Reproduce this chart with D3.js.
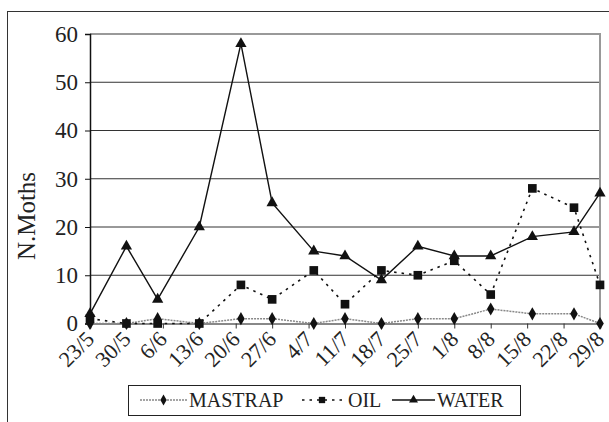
<!DOCTYPE html>
<html>
<head>
<meta charset="utf-8">
<script src="https://cdn.jsdelivr.net/npm/d3@7"></script>
<style>
  body { margin: 0; background: #fff; }
  svg { display: block; }
</style>
</head>
<body>
<svg id="chart" width="609" height="422" font-family="Liberation Serif, serif"></svg>
<script>
// sampling dates (d/m) and weekly tick labels
const dates = ["23/5", "30/5", "5/6", "13/6", "21/6", "27/6", "5/7", "11/7", "18/7", "25/7", "1/8", "8/8", "16/8", "24/8", "29/8"];
const tickLabels = ["23/5", "30/5", "6/6", "13/6", "20/6", "27/6", "4/7", "11/7", "18/7", "25/7", "1/8", "8/8", "15/8", "22/8", "29/8"];
const mastrap = [0, 0, 1, 0, 1, 1, 0, 1, 0, 1, 1, 3, 2, 2, 0];
const oil = [1, 0, 0, 0, 8, 5, 11, 4, 11, 10, 13, 6, 28, 24, 8];
const water = [2, 16, 5, 20, 58, 25, 15, 14, 9, 16, 14, 14, 18, 19, 27];
const yTicks = [0, 10, 20, 30, 40, 50, 60];

const FONT = "Liberation Serif";
const parse = d3.timeParse("%d/%m/%Y");
const toDate = s => parse(s + "/2004");

const svg = d3.select("#chart");
const plot = { left : 90, right : 600, top : 34, bottom : 323.5 };

// outer frame
svg.append("rect")
  .attr("x", 7.5)
  .attr("y", 11.5)
  .attr("width", 640)
  .attr("height", 440)
  .attr("fill", "none")
  .attr("stroke", "#333")
  .attr("stroke-width", 1);

const x = d3.scaleTime()
  .domain([ toDate(tickLabels[0]), toDate(tickLabels[tickLabels.length - 1]) ])
  .range([ plot.left, plot.right ]);

const y = d3.scaleLinear()
  .domain([ 0, 60 ])
  .range([ plot.bottom, plot.top ]);

// gridlines
svg.append("g")
  .selectAll("line")
  .data(yTicks.slice(1, -1))
  .enter()
  .append("line")
  .attr("x1", plot.left)
  .attr("x2", plot.right)
  .attr("y1", d => y(d))
  .attr("y2", d => y(d))
  .attr("stroke", "#333")
  .attr("stroke-width", 1);

// top and right border of plot area
svg.append("path")
  .attr("d", `M${plot.left},${y(60)} H${plot.right} V${plot.bottom}`)
  .attr("fill", "none")
  .attr("stroke", "#999")
  .attr("stroke-width", 2);

// y axis
const yAxis = svg.append("g")
  .attr("transform", `translate(${plot.left},0)`)
  .call(d3.axisLeft(y).tickValues(yTicks).tickSize(5).tickPadding(7).tickFormat(d3.format("d")));
yAxis.attr("font-family", FONT);
yAxis.select(".domain").attr("stroke", "#111").attr("stroke-width", 1.5);
yAxis.selectAll("line").attr("stroke", "#111");
yAxis.selectAll("text")
  .attr("font-size", "23px")
  .attr("fill", "#222");

// x axis
const xAxis = svg.append("g")
  .attr("transform", `translate(0,${plot.bottom})`)
  .call(d3.axisBottom(x).tickValues(tickLabels.map(toDate)).tickSize(5).tickFormat((d, i) => tickLabels[i]));
xAxis.attr("font-family", FONT);
xAxis.select(".domain").attr("stroke", "#888").attr("stroke-width", 2);
xAxis.selectAll("line").attr("stroke", "#333");
xAxis.selectAll("text")
  .attr("font-size", "22px")
  .attr("fill", "#222")
  .attr("text-anchor", "end")
  .attr("y", 0)
  .attr("dy", 0)
  .attr("transform", "translate(5,17) rotate(-45)");

// y title
svg.append("text")
  .attr("transform", "translate(35,216) rotate(-90)")
  .attr("text-anchor", "middle")
  .attr("font-family", FONT)
  .attr("font-size", "25px")
  .attr("fill", "#222")
  .text("N.Moths");

const series = [
  { name : "MASTRAP", values : mastrap, stroke : "#888", dash : "2,1", width : 1.5, symbol : d3.symbolDiamond, size : 50 },
  { name : "OIL", values : oil, stroke : "#111", dash : "2.5,5", width : 1.6, symbol : d3.symbolSquare, size : 75 },
  { name : "WATER", values : water, stroke : "#111", dash : null, width : 1.4, symbol : d3.symbolTriangle, size : 55 }
];

const line = d3.line()
  .x(d => x(d.date))
  .y(d => y(d.value));

series.forEach(s => {
  const pts = s.values.map((v, i) => ({ date : toDate(dates[i]), value : v }));
  svg.append("path")
    .datum(pts)
    .attr("d", line)
    .attr("fill", "none")
    .attr("stroke", s.stroke)
    .attr("stroke-width", s.width)
    .attr("stroke-dasharray", s.dash);
  svg.append("g")
    .selectAll("path")
    .data(pts)
    .enter()
    .append("path")
    .attr("transform", d => `translate(${x(d.date)},${y(d.value)})`)
    .attr("d", d3.symbol().type(s.symbol).size(s.size))
    .attr("fill", "#111");
});

// legend
const legend = svg.append("g");
legend.append("rect")
  .attr("x", 128.5)
  .attr("y", 385.5)
  .attr("width", 392)
  .attr("height", 30)
  .attr("fill", "#fff")
  .attr("stroke", "#222")
  .attr("stroke-width", 1);

const legendPos = [
  { x1 : 140, x2 : 187, tx : 189, size : 35 },
  { x1 : 302, x2 : 342, tx : 348, size : 40 },
  { x1 : 392, x2 : 435, tx : 437, size : 35 }
];
series.forEach((s, i) => {
  const p = legendPos[i];
  legend.append("line")
    .attr("x1", p.x1)
    .attr("x2", p.x2)
    .attr("y1", 400)
    .attr("y2", 400)
    .attr("stroke", s.stroke)
    .attr("stroke-width", s.width)
    .attr("stroke-dasharray", s.dash);
  legend.append("path")
    .attr("transform", `translate(${(p.x1 + p.x2) / 2},400)`)
    .attr("d", d3.symbol().type(s.symbol).size(p.size))
    .attr("fill", "#111");
  legend.append("text")
    .attr("x", p.tx)
    .attr("y", 407)
    .attr("font-family", FONT)
    .attr("font-size", "20px")
    .attr("fill", "#222")
    .text(s.name);
});
</script>
</body>
</html>
